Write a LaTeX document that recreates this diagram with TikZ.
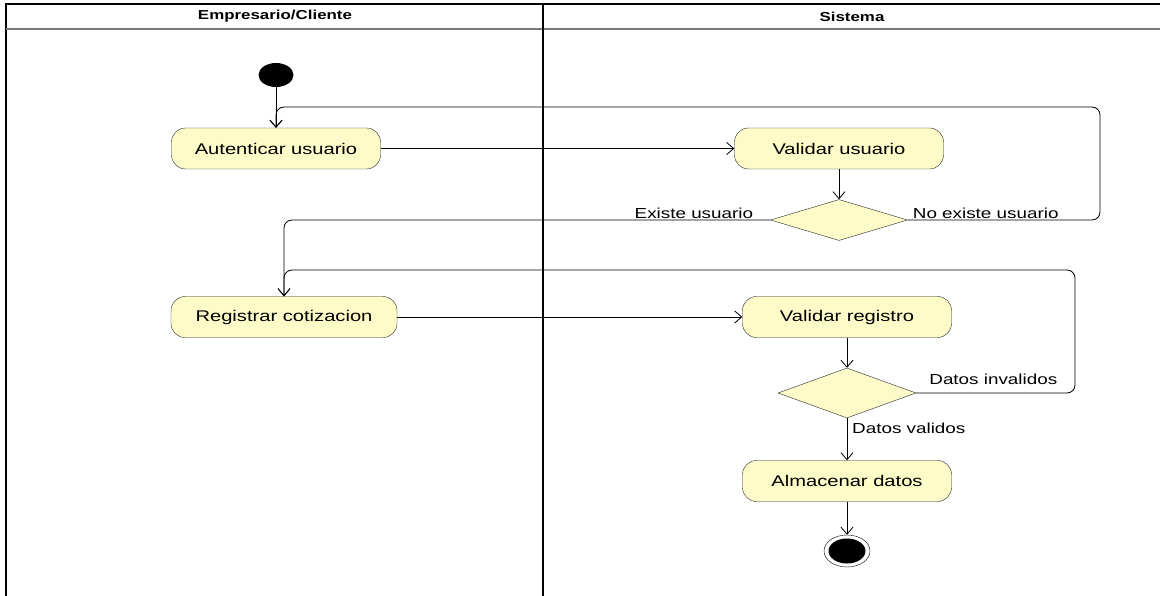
\documentclass[tikz,border=0pt]{standalone}
\usepackage{fontspec}
\setmainfont{Liberation Sans}[FakeStretch=1.3]
\usepackage{xcolor}
\usetikzlibrary{shapes.geometric, arrows.meta, positioning}

\definecolor{actfill}{RGB}{253,251,200}
\definecolor{lanegray}{RGB}{120,120,120}

\begin{document}
\begin{tikzpicture}[
    x=1pt, y=-1pt,
    action/.style={draw=black!85, rectangle, minimum width=209pt, minimum height=41pt, align=center, fill=actfill, rounded corners=14pt, font=\fontsize{15.5}{18}\selectfont},
    decision/.style={draw=black!85, diamond, inner sep=0pt, fill=actfill},
    initial/.style={ellipse, fill=black, minimum width=35pt, minimum height=24pt, inner sep=0pt},
    final/.style={ellipse, draw, fill=white, minimum width=46pt, minimum height=32pt, inner sep=0pt},
    guard/.style={font=\fontsize{14.5}{17}\selectfont, inner sep=1pt},
    lane/.style={font=\bfseries\fontsize{13}{15}\selectfont},
    arrow/.style={-{Straight Barb[length=7pt, width=12pt]}, line width=0.8pt},
]
\useasboundingbox (0,0) rectangle (1160,596);

% === SWIMLANES ===
\draw[line width=1.2pt] (6,596) -- (6,4) -- (1160,4);
\draw[lanegray, line width=2pt] (6,29) -- (1160,29);
\draw[line width=1.4pt] (543,4) -- (543,596);
\node[lane] (lane1) at (275,16.5) {Empresario/Cliente};
\node[lane] (lane2) at (852,16.5) {Sistema};

% === EMPRESARIO/CLIENTE ===
% Start
\node[initial] (start) at (276,75) {};

% Autenticar usuario
\node[action] (auth) at (276,148.5) {Autenticar usuario};

% Registrar cotizacion
\node[action, minimum width=226pt] (reg) at (284,317) {Registrar cotizacion};

% === SISTEMA ===
% Validar usuario
\node[action] (valuser) at (839,148.5) {Validar usuario};

% Decision 1
\node[decision, minimum width=137pt, minimum height=41pt] (dec1) at (839,220) {};

% Validar registro
\node[action] (valreg) at (847,317) {Validar registro};

% Decision 2
\node[decision, minimum width=138pt, minimum height=50pt] (dec2) at (847,393) {};

% Almacenar datos
\node[action] (store) at (847,481) {Almacenar datos};

% End
\node[final] (end) at (847,551) {};
\fill (end.center) ellipse [x radius=18.5, y radius=12.5];

% Loop corners
\coordinate (loop1) at (1100,107);
\coordinate (loop2) at (1075,270);

% Connections
\draw[arrow] (start) -- (auth);
\draw[arrow] (auth) -- (valuser);
\draw[arrow] (valuser) -- (dec1);
\draw[arrow] (reg) -- (valreg);
\draw[arrow] (valreg) -- (dec2);
\draw[arrow] (dec2) -- (store);
\draw[arrow] (store) -- (end);

% Guards
\draw[arrow, rounded corners=8pt] (dec1.west) -| (reg.north);
\node[guard, anchor=south east] (g1) at ([xshift=-16pt, yshift=0pt]dec1.west) {Existe usuario};
\draw[arrow, rounded corners=8pt] (dec1.east) -| (loop1) -| (auth.north);
\node[guard, anchor=south west] (g2) at ([xshift=4pt, yshift=0pt]dec1.east) {No existe usuario};
\draw[arrow, rounded corners=8pt] (dec2.east) -| (loop2) -| (reg.north);
\node[guard, anchor=south west] (g3) at ([xshift=12pt, yshift=7pt]dec2.east) {Datos invalidos};
\node[guard, anchor=north west] (g4) at ([xshift=4pt, yshift=-4pt]dec2.south) {Datos validos};

\end{tikzpicture}
\end{document}
